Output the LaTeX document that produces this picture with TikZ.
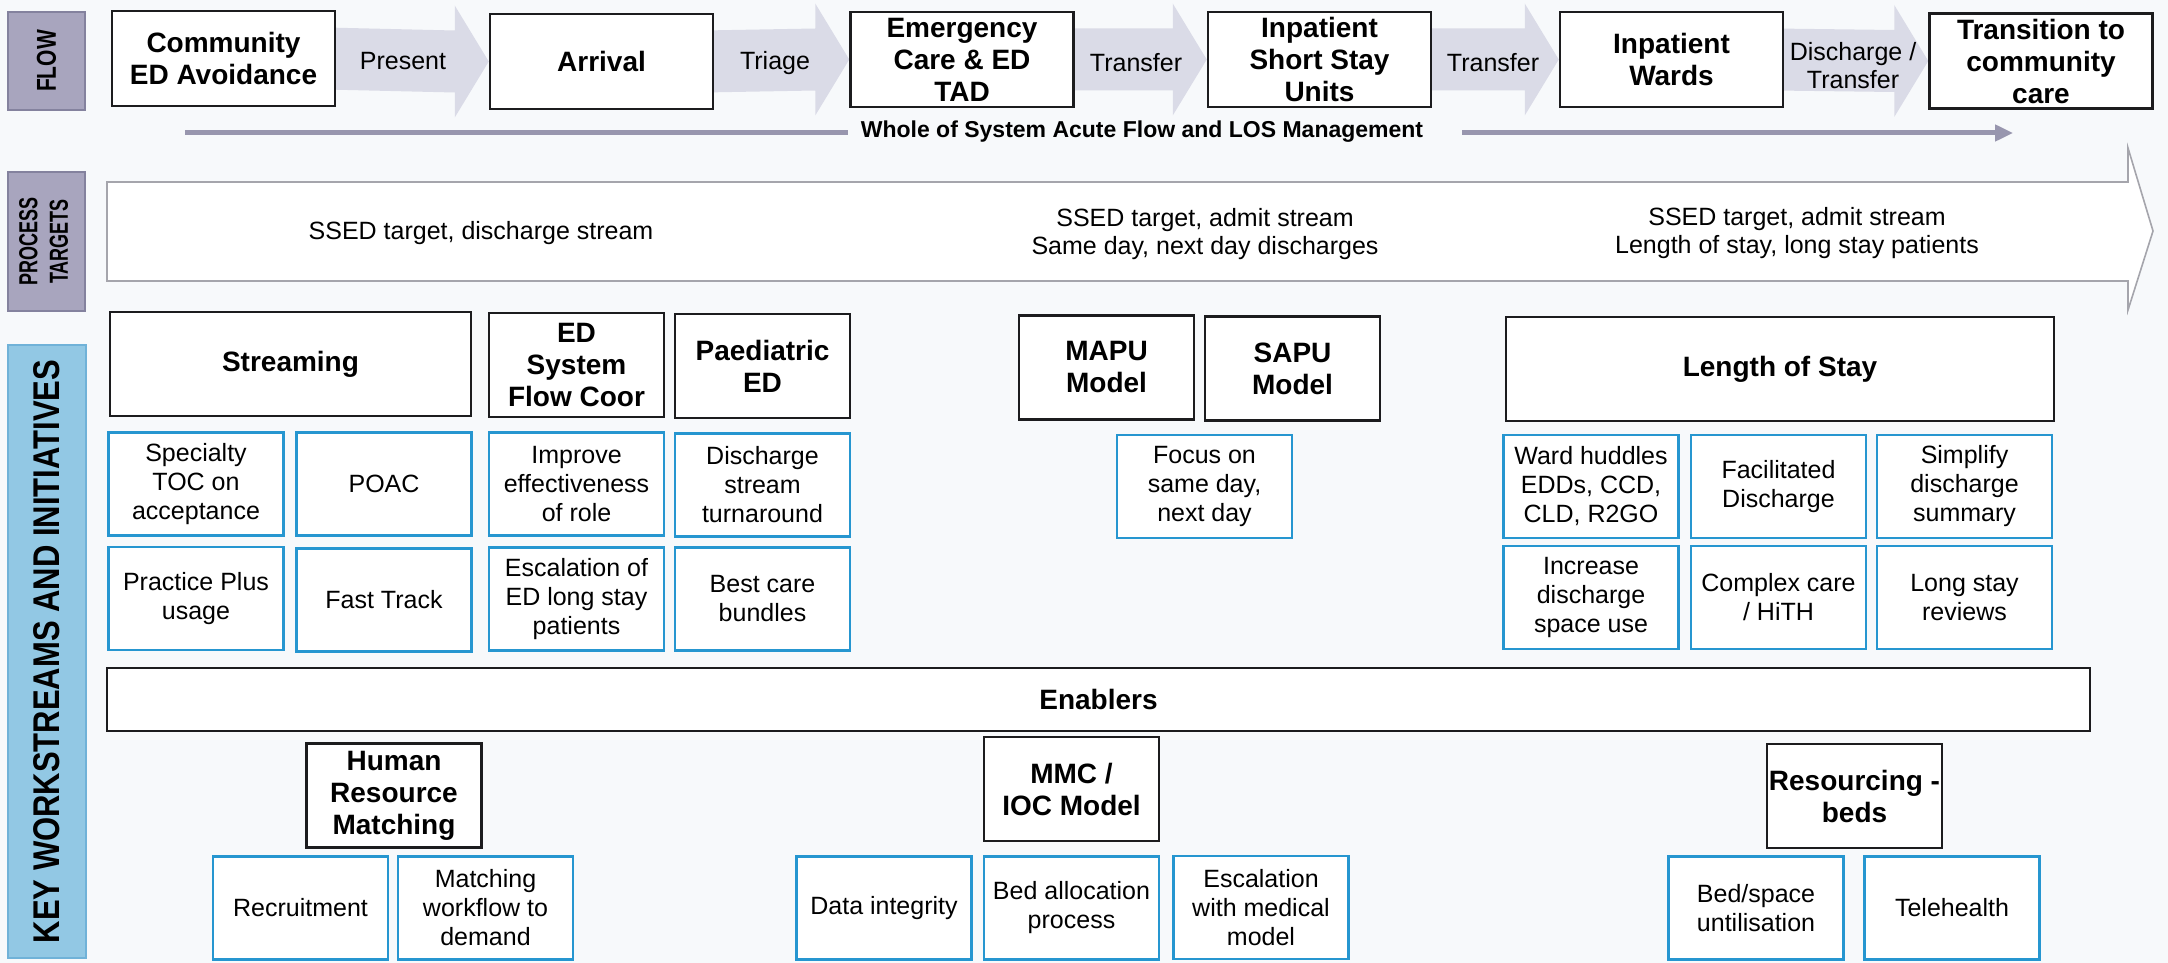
\documentclass[tikz,border=0pt]{standalone}
\usepackage{fontspec}
\setmainfont{Liberation Sans}
\usetikzlibrary{calc,arrows.meta,backgrounds}

\definecolor{paper}{RGB}{247,249,251}
\definecolor{boxline}{RGB}{28,28,30}
\definecolor{taskline}{RGB}{38,150,208}
\definecolor{flowfill}{RGB}{168,165,190}
\definecolor{flowline}{RGB}{132,130,158}
\definecolor{keyfill}{RGB}{146,200,228}
\definecolor{keyline}{RGB}{112,178,216}
\definecolor{chev}{RGB}{218,219,231}
\definecolor{losgray}{RGB}{152,150,174}
\definecolor{bandline}{RGB}{165,165,172}

\tikzstyle{stage}=[rectangle,draw=boxline,fill=white,line width=1.25pt,minimum width=111.5pt,minimum height=47.5pt,inner sep=0pt,align=center,font=\fontsize{14}{16}\selectfont\bfseries]
\tikzstyle{stream}=[stage,minimum width=87.5pt,minimum height=52pt]
\tikzstyle{task}=[rectangle,draw=taskline,fill=white,line width=1.1pt,minimum width=87.5pt,minimum height=51.5pt,inner sep=0pt,align=center,font=\fontsize{12.5}{14.5}\selectfont]
\tikzstyle{flowlabel}=[align=center,font=\fontsize{12.5}{14}\selectfont]
\tikzstyle{target}=[align=center,font=\fontsize{12.5}{14}\selectfont]
\tikzstyle{side}=[rectangle,rotate=90,line width=0.75pt,inner sep=0pt]
\tikzstyle{chevron}=[fill=chev]
\tikzstyle{losline}=[draw=losgray,line width=2.5pt]

\begin{document}
\begin{tikzpicture}[x=0.5pt,y=-0.5pt]
    \begin{scope}[on background layer]
        \fill[paper] (0,0) rectangle (2168,963);
    \end{scope}
    \useasboundingbox (0,0) rectangle (2168,963);

    % side labels
    \node[side,draw=flowline,fill=flowfill,minimum width=49pt,minimum height=38.5pt,font=\fontsize{10.5}{12}\selectfont\bfseries] (flow) at (46.5,61) {\scalebox{1}[1.3]{FLOW}};
    \node[side,draw=flowline,fill=flowfill,minimum width=69.5pt,minimum height=38.5pt,font=\fontsize{9}{10.5}\selectfont\bfseries] (ptargets) at (46.5,241.5)
        {\scalebox{1}[1.45]{\begin{tabular}{@{}c@{}}PROCESS\\TARGETS\end{tabular}}};
    \node[side,draw=keyline,fill=keyfill,minimum width=306.5pt,minimum height=39pt,font=\fontsize{15.5}{17}\selectfont\bfseries] (keyws) at (47,651.5) {\scalebox{1}[1.2]{KEY WORKSTREAMS AND INITIATIVES}};

    % flow
    \node[stage] (comm) at (223.5,58.5) {Community\\ED Avoidance};
    \node[stage] (arr) at (601.5,61.5) {Arrival};
    \node[stage] (emer) at (962,59.5) {Emergency\\Care \& ED\\TAD};
    \node[stage] (sstay) at (1319.5,59.5) {Inpatient\\Short Stay\\Units};
    \node[stage] (ward) at (1671.5,59.5) {Inpatient\\Wards};
    \node[stage] (trans) at (2041,61) {Transition to\\community\\care};

    \begin{scope}[on background layer]
        \foreach \a/\b in {comm/arr,arr/emer,emer/sstay,sstay/ward,ward/trans} {
            \fill[chevron] ($(\a.east)+(-10,-31)$) -- ($(\b.west)+(-34,-31)$) -- ($(\b.west)+(-34,-56)$) -- (\b.west)
                -- ($(\b.west)+(-34,56)$) -- ($(\b.west)+(-34,31)$) -- ($(\a.east)+(-10,31)$) -- cycle;
        };
    \end{scope}

    \node[flowlabel] (present) at (403,61) {Present};
    \node[flowlabel] (triage) at (775,63) {Triage};
    \node[flowlabel] (xfer a) at (1136,63) {Transfer};
    \node[flowlabel] (xfer b) at (1493,63) {Transfer};
    \node[flowlabel] (dischg) at (1853,66) {Discharge /\\Transfer};

    \node[font=\fontsize{11.5}{13}\selectfont\bfseries] (wos) at (1142,132) {Whole of System Acute Flow and LOS Management};
    \coordinate (wos start) at (185,133);
    \coordinate (wos end) at (2013,133);
    \draw[losline,shorten >=3pt] (wos start) -- (wos.west |- wos start);
    \draw[losline,shorten <=16pt,-{Triangle[length=9pt,width=8pt]}] (wos.east |- wos end) -- (wos end);

    % process targets
    \draw[draw=bandline,fill=white,line width=0.8pt] (107,182) -- (2128,182) -- (2128,148) -- (2153,231)
        -- (2128,310) -- (2128,281) -- (107,281) -- cycle;
    \node[target] (tgt a) at (481,233) {SSED target, discharge stream};
    \node[target] (tgt b) at (1205,234) {SSED target, admit stream\\Same day, next day discharges};
    \node[target] (tgt c) at (1797,233) {SSED target, admit stream\\Length of stay, long stay patients};

    % workstreams
    \node[stream,minimum width=180.5pt] (strm) at (290.5,364) {Streaming};
    \node[stream] (edsys) at (576.5,365) {ED\\System\\Flow Coor};
    \node[stream] (paed) at (762.5,366) {Paediatric\\ED};
    \node[stream] (mapu) at (1106.5,367.5) {MAPU\\Model};
    \node[stream] (sapu) at (1292.5,368.5) {SAPU\\Model};
    \node[stream,minimum width=274pt] (los) at (1780,369) {Length of Stay};

    \node[task] (spec) at (196,484) {Specialty\\TOC on\\acceptance};
    \node[task] (poac) at (384,484) {POAC};
    \node[task] (impr) at (576.5,484) {Improve\\effectiveness\\of role};
    \node[task] (dstr) at (762.5,485) {Discharge\\stream\\turnaround};
    \node[task] (focus) at (1204.5,486.5) {Focus on\\same day,\\next day};
    \node[task] (huddle) at (1591,486.5) {Ward huddles\\EDDs, CCD,\\CLD, R2GO};
    \node[task] (facil) at (1778.5,486.5) {Facilitated\\Discharge};
    \node[task] (simpl) at (1964.5,486.5) {Simplify\\discharge\\summary};

    \node[task] (pplus) at (196,598.5) {Practice Plus\\usage};
    \node[task] (fast) at (384,600) {Fast Track};
    \node[task] (escl) at (576.5,599) {Escalation of\\ED long stay\\patients};
    \node[task] (bundle) at (762.5,599) {Best care\\bundles};
    \node[task] (incr) at (1591,597.5) {Increase\\discharge\\space use};
    \node[task] (cplx) at (1778.5,597.5) {Complex care\\/ HiTH};
    \node[task] (lstay) at (1964.5,597.5) {Long stay\\reviews};

    % enablers
    \node[stream,minimum width=991.5pt,minimum height=31.5pt] (enab) at (1098.5,699.5) {Enablers};
    \node[stream] (hrm) at (394,795.5) {Human\\Resource\\Matching};
    \node[stream] (mmc) at (1071.5,789) {MMC /\\IOC Model};
    \node[stream] (resb) at (1854.5,796) {Resourcing -\\beds};

    \node[task] (recr) at (300.5,908) {Recruitment};
    \node[task] (match) at (485.5,908) {Matching\\workflow to\\demand};
    \node[task] (data) at (884,908) {Data integrity};
    \node[task] (alloc) at (1071.5,908) {Bed allocation\\process};
    \node[task] (escmed) at (1261,907.5) {Escalation\\with medical\\model};
    \node[task] (bedsp) at (1756,908) {Bed/space\\untilisation};
    \node[task] (tele) at (1952,908) {Telehealth};
\end{tikzpicture}
\end{document}
